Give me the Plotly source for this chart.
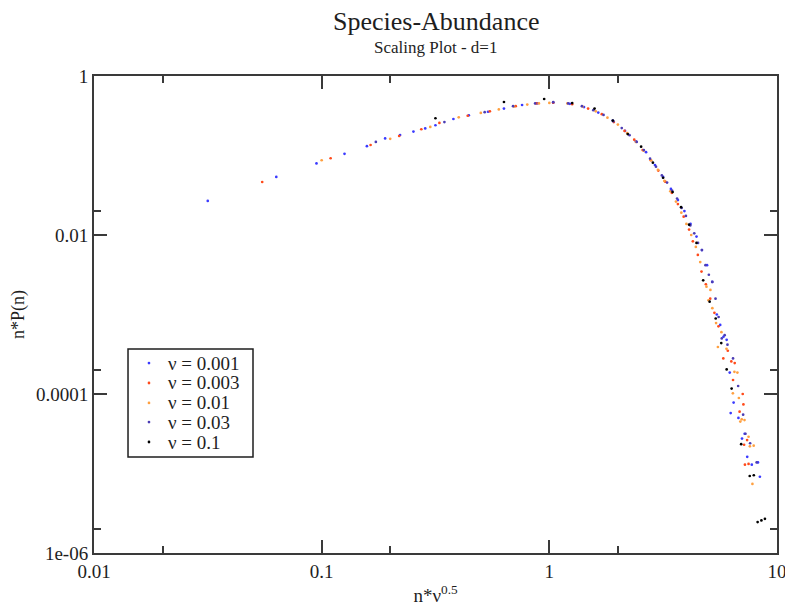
import plotly.graph_objects as go

# ---- data ----
series_names = ["ν = 0.001", "ν = 0.003", "ν = 0.01", "ν = 0.03", "ν = 0.1"]
series_colors = ["#3a3aff", "#ff4a1a", "#ffa040", "#4b3cb4", "#000000"]

nu001_x = [0.0316, 0.0632, 0.0949, 0.126, 0.158, 0.190, 0.221, 0.253, 0.285, 0.316,
           0.379, 0.443, 0.538, 0.632, 0.759, 0.885, 1.04, 1.23, 1.42, 1.64, 1.90,
           2.15, 2.40, 2.66, 2.91, 3.16, 3.42, 3.67, 3.92, 4.17, 4.43, 4.68, 4.93,
           5.19, 5.44, 5.63, 5.82, 6.01, 6.20, 6.26, 6.45, 6.77, 7.02, 7.21, 7.40,
           7.75, 8.25, 8.41]
nu001_y = [0.0268, 0.0537, 0.0794, 0.105, 0.131, 0.164, 0.181, 0.200, 0.219, 0.240,
           0.288, 0.320, 0.355, 0.389, 0.432, 0.452, 0.462, 0.447, 0.407, 0.347, 0.275,
           0.204, 0.151, 0.110, 0.0759, 0.0537, 0.0380, 0.0275, 0.0200, 0.0138, 0.00955,
           0.00646, 0.00417, 0.00257, 0.00100, 7.4e-4, 5.25e-4, 4.8e-4, 1.86e-4, 5.75e-5,
           7.8e-5, 5.0e-5, 2.75e-5, 3.16e-5, 1.62e-5, 1.29e-5, 1.38e-5, 9.1e-6]

nu003_x = [0.0548, 0.1095, 0.164, 0.219, 0.274, 0.329, 0.438, 0.548, 0.712, 0.876,
           1.04, 1.26, 1.48, 1.70, 1.92, 2.14, 2.36, 2.57, 2.79, 3.01, 3.23, 3.45,
           3.67, 3.89, 4.11, 4.27, 4.49, 4.66, 4.87, 5.09, 5.31, 5.53, 5.81, 6.08,
           6.30, 6.41, 6.52, 6.85, 7.07, 7.12, 7.17, 7.23, 7.39, 7.50]
nu003_y = [0.0464, 0.0923, 0.1355, 0.176, 0.214, 0.257, 0.316, 0.359, 0.417, 0.452,
           0.462, 0.442, 0.389, 0.331, 0.263, 0.204, 0.158, 0.117, 0.0871, 0.0646,
           0.0468, 0.0339, 0.0245, 0.0170, 0.0117, 0.00832, 0.00562, 0.00347, 0.0024,
           0.00158, 0.00105, 7.1e-4, 2.8e-4, 3.5e-4, 2.57e-4, 1.5e-4, 2.45e-4, 6.0e-5,
           1.0e-4, 7.4e-5, 2.3e-5, 1.29e-5, 2.63e-5, 1.32e-5]

nu01_x = [0.1, 0.2, 0.3, 0.4, 0.5, 0.6, 0.7, 0.8, 0.9, 1.0, 1.2, 1.4, 1.6, 1.8, 2.0,
          2.2, 2.4, 2.6, 2.8, 3.0, 3.2, 3.4, 3.6, 3.8, 4.0, 4.2, 4.4, 4.6, 4.9, 5.0,
          5.1, 5.2, 5.4, 5.5, 5.7, 6.0, 6.4, 6.5, 6.7, 6.8, 6.9, 7.0, 7.2, 7.5, 7.6,
          7.8, 7.9]
nu01_y = [0.0871, 0.162, 0.229, 0.302, 0.343, 0.380, 0.412, 0.437, 0.452, 0.459,
          0.452, 0.412, 0.359, 0.299, 0.245, 0.191, 0.148, 0.115, 0.0871, 0.0661,
          0.0479, 0.0355, 0.0263, 0.0191, 0.0138, 0.0100, 0.00708, 0.00457, 0.00224,
          0.00151, 0.00204, 0.00120, 7.8e-4, 3.9e-4, 6.0e-4, 3.7e-4, 1.02e-4, 1.9e-4,
          1.86e-4, 8.9e-5, 4.5e-5, 4.8e-5, 4.7e-5, 2.9e-5, 2.2e-5, 7.4e-6, 2.24e-5]

nu03_x = [0.173, 0.346, 0.520, 0.693, 0.866, 1.04, 1.21, 1.39, 1.56, 1.73, 1.91,
          2.08, 2.25, 2.42, 2.60, 2.77, 2.94, 3.12, 3.29, 3.46, 3.64, 3.81, 3.98,
          4.16, 4.33, 4.50, 4.68, 4.85, 5.02, 5.20, 5.37, 5.54, 5.72, 5.89, 6.06,
          6.41, 6.75, 7.10, 7.27, 7.62, 8.14]
nu03_y = [0.148, 0.263, 0.351, 0.417, 0.452, 0.468, 0.452, 0.417, 0.372, 0.324,
          0.269, 0.221, 0.180, 0.148, 0.117, 0.0912, 0.0724, 0.0562, 0.0457, 0.0363,
          0.0288, 0.0219, 0.0174, 0.0132, 0.0105, 0.00794, 0.00646, 0.00417, 0.00316,
          0.00257, 0.00158, 9.3e-4, 5.0e-4, 5.5e-4, 4.17e-4, 2.8e-4, 1.26e-4, 5.5e-5,
          3.16e-5, 2.4e-5, 1.38e-5]

nu1_x = [0.316, 0.632, 0.949, 1.26, 1.58, 1.90, 2.21, 2.53, 2.85, 3.16, 3.48, 3.79,
         4.11, 4.43, 4.74, 5.06, 5.38, 5.69, 6.01, 6.32, 6.96, 7.59, 7.91, 8.22,
         8.54, 8.85]
nu1_y = [0.294, 0.471, 0.514, 0.457, 0.389, 0.275, 0.186, 0.129, 0.0813, 0.0525,
         0.0347, 0.0224, 0.0135, 0.00794, 0.00269, 0.00145, 8.9e-4, 4.37e-4, 2.04e-4,
         1.17e-4, 2.34e-5, 9.3e-6, 9.5e-6, 2.45e-6, 2.57e-6, 2.69e-6]

x_tick_vals = [0.01, 0.1, 1, 10]
x_tick_text = ["0.01", "0.1", "1", "10"]
x_minor_vals = [0.02, 0.2, 2]
y_tick_vals = [1e-6, 1e-4, 0.01, 1]
y_tick_text = ["1e-06", "0.0001", "0.01", "1"]
y_minor_vals = [2e-6, 2e-4, 0.02]

all_x = [nu001_x, nu003_x, nu01_x, nu03_x, nu1_x]
all_y = [nu001_y, nu003_y, nu01_y, nu03_y, nu1_y]

FONT = "Liberation Serif"
AX = "#3a3a3a"
TXT = "#1e1e1e"

fig = go.Figure()
for name, col, xs, ys in zip(series_names, series_colors, all_x, all_y):
    fig.add_trace(go.Scatter(x=xs, y=ys, mode="markers", name=name,
                             marker=dict(size=2.7, color=col, line=dict(width=0))))

axis_common = dict(type="log", showgrid=False, zeroline=False, showline=True,
                   linecolor=AX, linewidth=2, mirror="allticks", ticks="inside",
                   ticklen=13, tickwidth=1.5, tickcolor=AX,
                   tickfont=dict(family=FONT, size=19, color=TXT))

fig.update_xaxes(range=[-2, 1], tickmode="array", tickvals=x_tick_vals,
                 ticktext=x_tick_text,
                 minor=dict(tickmode="array", tickvals=x_minor_vals, ticks="inside",
                            ticklen=7, tickwidth=1.5, tickcolor=AX),
                 title=dict(text="n*ν<sup>0.5</sup>", font=dict(family=FONT, size=19, color=TXT),
                            standoff=8),
                 **axis_common)
fig.update_yaxes(range=[-6, 0], tickmode="array", tickvals=y_tick_vals,
                 ticktext=y_tick_text,
                 minor=dict(tickmode="array", tickvals=y_minor_vals, ticks="inside",
                            ticklen=7, tickwidth=1.5, tickcolor=AX),
                 title=dict(text="n*P(n)", font=dict(family=FONT, size=18, color=TXT),
                            standoff=10),
                 **axis_common)

# ---- legend box drawn in the plot's paper coordinates ----
leg_box = dict(x0=0.0498, x1=0.2328, y0=0.2013, y1=0.4277)
leg_rows = [0.3983, 0.3564, 0.3145, 0.2746, 0.2327]
leg_dot_x = 0.0805
leg_text_x = 0.1054

shapes = [dict(type="rect", xref="paper", yref="paper", line=dict(color=TXT, width=1.5),
               fillcolor="white", layer="above", **leg_box)]
annotations = [
    dict(text="Species-Abundance", xref="paper", yref="paper", x=0.5, y=1,
         yshift=55, xanchor="center", yanchor="middle", showarrow=False,
         font=dict(family=FONT, size=26, color=TXT)),
    dict(text="Scaling Plot - d=1", xref="paper", yref="paper", x=0.5, y=1,
         yshift=29, xanchor="center", yanchor="middle", showarrow=False,
         font=dict(family=FONT, size=17, color=TXT)),
]
for name, col, ry in zip(series_names, series_colors, leg_rows):
    shapes.append(dict(type="circle", xref="paper", yref="paper", layer="above",
                       x0=leg_dot_x - 0.0020, x1=leg_dot_x + 0.0020,
                       y0=ry - 0.0029, y1=ry + 0.0029,
                       fillcolor=col, line=dict(width=0)))
    annotations.append(dict(text=name, xref="paper", yref="paper", x=leg_text_x, y=ry,
                            xanchor="left", yanchor="middle", showarrow=False,
                            font=dict(family=FONT, size=19, color=TXT)))

fig.update_layout(
    width=785, height=601,
    margin=dict(l=86, r=16, t=68, b=56, autoexpand=False),
    paper_bgcolor="white", plot_bgcolor="white",
    font=dict(family=FONT, color=TXT),
    showlegend=False,
    shapes=shapes,
    annotations=annotations,
)

fig.write_html("out.html")
